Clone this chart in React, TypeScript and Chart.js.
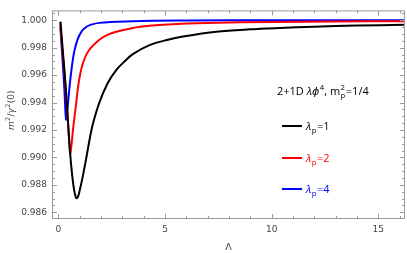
import React, { useEffect, useRef } from "react";
import { Chart, registerables } from "chart.js";

Chart.register(...registerables);

// Λ (cutoff) values and m^2/γ^2(0) for each λ_p
const blackX = [0.1, 0.2, 0.3, 0.4, 0.5, 0.6, 0.7, 0.78, 0.85, 0.92, 1.0, 1.14, 1.3, 1.45, 1.61, 1.92, 2.32, 2.71, 3.1, 3.49, 4.27, 5.13, 5.84, 7.4, 8.97, 10.37, 12, 14, 16.2];
const blackY = [0.9999, 0.9979, 0.9960, 0.9938, 0.9914, 0.9894, 0.9880, 0.9873, 0.98702, 0.98715, 0.9876, 0.9886, 0.9899, 0.9912, 0.9924, 0.9940, 0.99544, 0.99637, 0.9970, 0.99753, 0.99819, 0.99858, 0.99881, 0.99916, 0.99934, 0.99944, 0.99953, 0.99961, 0.99967];

const redX = [0.08, 0.2, 0.28, 0.36, 0.44, 0.5, 0.55, 0.6, 0.67, 0.75, 0.83, 0.91, 1.0, 1.14, 1.33, 1.53, 1.92, 2.3, 2.71, 3.49, 4.27, 5.13, 7, 10, 13, 16.2];
const redY = [0.99986, 0.9976, 0.9962, 0.9946, 0.9928, 0.9913, 0.99028, 0.9907, 0.9918, 0.9929, 0.9939, 0.9950, 0.9959, 0.99683, 0.99755, 0.99800, 0.99858, 0.99893, 0.99916, 0.99944, 0.99960, 0.99970, 0.99980, 0.99988, 0.99991, 0.99993];

const blueX = [0.09, 0.2, 0.28, 0.36, 0.44, 0.5, 0.59, 0.75, 0.99, 1.3, 1.92, 3.49, 6, 10, 16.2];
const blueY = [0.99951, 0.99695, 0.9950, 0.99277, 0.9938, 0.9948, 0.9961, 0.99777, 0.99893, 0.99951, 0.99981, 0.99993, 0.99998, 1.0, 1.0];

const xTicks = [0, 5, 10, 15];
const yTicks = [0.986, 0.988, 0.99, 0.992, 0.994, 0.996, 0.998, 1.0];
const xMinorStep = 1;
const yMinorStep = 0.0005;

const seriesLabels = ["1", "2", "4"];
const seriesColors = ["#000000", "#ff0000", "#0000ff"];

const zip = (xs: number[], ys: number[]) => xs.map((x, i) => ({ x, y: ys[i] }));

const framePlugin = {
  id: "frameDeco",
  afterDraw(chart: any) {
    const ctx = chart.ctx as CanvasRenderingContext2D;
    const { left, right, top, bottom } = chart.chartArea;
    const xs = chart.scales.x;
    const ys = chart.scales.y;
    ctx.save();
    ctx.strokeStyle = "#9a9a9a";
    ctx.lineWidth = 1;
    ctx.strokeRect(left + 0.5, top + 0.5, right - left - 1, bottom - top - 1);
    const xmin = xs.min, xmax = xs.max;
    for (let v = Math.ceil(xmin / xMinorStep) * xMinorStep; v <= xmax + 1e-9; v += xMinorStep) {
      const major = xTicks.some((t) => Math.abs(t - v) < 1e-9);
      const len = major ? 5 : 3;
      const px = Math.round(xs.getPixelForValue(v)) + 0.5;
      ctx.beginPath();
      ctx.moveTo(px, bottom);
      ctx.lineTo(px, bottom - len);
      ctx.moveTo(px, top);
      ctx.lineTo(px, top + len);
      ctx.stroke();
    }
    const ymin = ys.min, ymax = ys.max;
    for (let k = Math.ceil(ymin / yMinorStep); k * yMinorStep <= ymax + 1e-12; k++) {
      const v = k * yMinorStep;
      const major = yTicks.some((t) => Math.abs(t - v) < 1e-9);
      const len = major ? 5 : 3;
      const py = Math.round(ys.getPixelForValue(v)) + 0.5;
      ctx.beginPath();
      ctx.moveTo(left, py);
      ctx.lineTo(left + len, py);
      ctx.moveTo(right, py);
      ctx.lineTo(right - len, py);
      ctx.stroke();
    }

    const base = "'Open Sans', 'DejaVu Sans', sans-serif";
    const fs = 11;
    let x = 277;
    let y = 95;
    ctx.fillStyle = "#000";
    ctx.textBaseline = "alphabetic";
    ctx.textAlign = "left";
    const put = (t: string, font: string, dx = 0, dy = 0, advance = true) => {
      ctx.font = font;
      ctx.fillText(t, x + dx, y + dy);
      const w = ctx.measureText(t).width;
      if (advance) x += w + dx;
      return w;
    };
    put("2+1D ", `${fs}px ${base}`);
    put("λϕ", `italic ${fs}px ${base}`);
    put("4", `${fs * 0.7}px ${base}`, 0.5, -5);
    put(", m", `${fs}px ${base}`);
    const w2 = put("2", `${fs * 0.7}px ${base}`, 0.5, -5, false);
    put("p", `${fs * 0.7}px ${base}`, 0.5, 3);
    x += Math.max(0, w2 - ctx.measureText("p").width);
    put("=1/4", `${fs}px ${base}`, 0.5);

    const entryY = [130, 162, 193];
    seriesLabels.forEach((lab, i) => {
      const c = seriesColors[i];
      const ly = entryY[i];
      ctx.strokeStyle = c;
      ctx.lineWidth = 2;
      ctx.beginPath();
      ctx.moveTo(282, ly - 4);
      ctx.lineTo(302, ly - 4);
      ctx.stroke();
      ctx.fillStyle = c;
      x = 306;
      y = ly;
      put("λ", `italic ${fs}px ${base}`);
      put("p", `${fs * 0.7}px ${base}`, 0.5, 3);
      put("=" + lab, `${fs}px ${base}`, 0.5);
    });

    ctx.fillStyle = "#444";
    ctx.font = `9.5px 'DejaVu Sans', sans-serif`;
    ctx.textAlign = "center";
    ctx.fillText("Λ", (left + right) / 2, 250);

    ctx.save();
    ctx.translate(14, 110);
    ctx.rotate(-Math.PI / 2);
    x = -20;
    y = 0;
    ctx.textAlign = "left";
    const tf = "'DejaVu Sans', sans-serif";
    put("m", `italic 9px ${tf}`);
    put("2", `6.5px ${tf}`, 0.3, -4);
    put("/", `9px ${tf}`, 0.3);
    put("γ", `italic 9px ${tf}`);
    put("2", `6.5px ${tf}`, 0.3, -4);
    put("(0)", `9px ${tf}`, 0.5);
    ctx.restore();

    ctx.restore();
  },
};

export default function App() {
  const ref = useRef<HTMLCanvasElement>(null);
  useEffect(() => {
    document.body.style.margin = "0";
    const canvas = ref.current!;
    const chart = new Chart(canvas, {
      type: "line",
      data: {
        datasets: [
          { label: "λp=1", data: zip(blackX, blackY), borderColor: seriesColors[0] },
          { label: "λp=2", data: zip(redX, redY), borderColor: seriesColors[1] },
          { label: "λp=4", data: zip(blueX, blueY), borderColor: seriesColors[2] },
        ].map((d) => ({
          ...d,
          borderWidth: 2,
          pointRadius: 0,
          fill: false,
          tension: 0.35,
        })),
      },
      options: {
        responsive: false,
        animation: false,
        layout: { padding: { top: 1, right: 2, left: 0, bottom: 0 } },
        plugins: { legend: { display: false }, tooltip: { enabled: false } },
        scales: {
          x: {
            type: "linear",
            min: -0.3,
            max: 16.25,
            grid: { display: false, drawTicks: false },
            border: { display: false },
            afterBuildTicks: (s: any) => {
              s.ticks = xTicks.map((v) => ({ value: v }));
            },
            afterFit: (s: any) => {
              s.height = 34;
            },
            ticks: {
              padding: 5,
              maxRotation: 0,
              color: "#444",
              font: { family: "'DejaVu Sans', sans-serif", size: 9 },
              callback: (v: any) => String(v),
            },
          },
          y: {
            type: "linear",
            min: 0.98551,
            max: 1.00072,
            grid: { display: false, drawTicks: false },
            border: { display: false },
            afterBuildTicks: (s: any) => {
              s.ticks = yTicks.map((v) => ({ value: v }));
            },
            afterFit: (s: any) => {
              s.width = 52;
            },
            ticks: {
              padding: 5,
              color: "#444",
              font: { family: "'DejaVu Sans', sans-serif", size: 9 },
              callback: (v: any) => Number(v).toFixed(3),
            },
          },
        },
      },
      plugins: [framePlugin],
    });
    return () => chart.destroy();
  }, []);
  return <canvas ref={ref} width={407} height={253} style={{ display: "block" }} />;
}
